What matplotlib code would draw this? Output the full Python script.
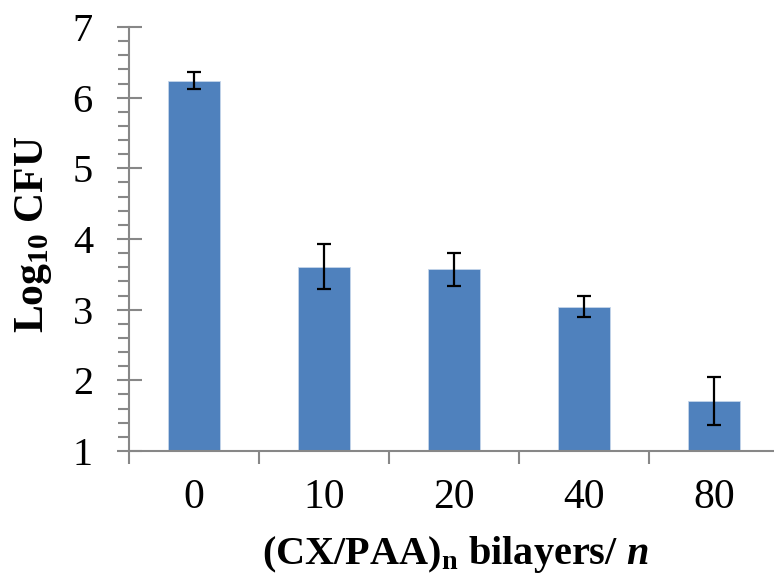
import numpy as np
import matplotlib
matplotlib.use("Agg")
import matplotlib.pyplot as plt
from matplotlib.ticker import MultipleLocator, FixedLocator

plt.rcParams['font.family'] = ['Liberation Serif', 'DejaVu Serif']
plt.rcParams['mathtext.fontset'] = 'custom'
plt.rcParams['mathtext.rm'] = 'Liberation Serif'
plt.rcParams['mathtext.bf'] = 'Liberation Serif:bold'
plt.rcParams['mathtext.it'] = 'Liberation Serif:italic:bold'

# data
bilayers = ['0', '10', '20', '40', '80']
log_cfu = [6.24, 3.61, 3.57, 3.04, 1.71]
err = [0.12, 0.32, 0.23, 0.15, 0.34]
base = 1

W, H = 774, 578
fig = plt.figure(figsize=(W / 100, H / 100), dpi=100)
ax = fig.add_axes([129 / W, 1 - 451 / H, 650 / W, 424 / H])

x = np.arange(len(bilayers))
heights = [v - base for v in log_cfu]
ax.bar(x, heights, bottom=base, width=0.4, color='#4F81BD', edgecolor='#C5D5EA', linewidth=0.6, zorder=2)
ax.errorbar(x, log_cfu, yerr=err, fmt='none', ecolor='black', elinewidth=1.6,
            capsize=4.7, capthick=1.6, zorder=3)

ax.set_xlim(-0.5, len(bilayers) - 0.5)
ax.set_ylim(1, 7)

gray = '#878787'
for s in ['top', 'right']:
    ax.spines[s].set_visible(False)
for s in ['left', 'bottom']:
    ax.spines[s].set_color(gray)
    ax.spines[s].set_linewidth(1.5)

ax.yaxis.set_major_locator(MultipleLocator(1))
ax.yaxis.set_minor_locator(MultipleLocator(0.2))
ax.tick_params(axis='y', which='major', direction='inout', length=18, width=1.5, color=gray,
               labelsize=29, pad=17)
ax.tick_params(axis='y', which='minor', direction='out', length=8, width=1.5, color=gray)

ax.set_xticks(x)
ax.set_xticklabels(bilayers)
ax.xaxis.set_minor_locator(FixedLocator(np.arange(-0.5, len(bilayers), 1.0)))
ax.tick_params(axis='x', which='major', length=0, labelsize=30, pad=20)
ax.tick_params(axis='x', which='minor', direction='out', length=9, width=1.5, color=gray)

fig.text(13 / W, 1 - 234 / H, r'$\mathbf{Log_{10}\ CFU}$', fontsize=30, rotation=90,
         ha='left', va='center')
fig.text(455 / W, 1 - 564 / H, r'$\mathbf{(CX/PAA)_n\ bilayers/\ }\mathit{n}$', fontsize=29,
         ha='center', va='baseline')

fig.savefig('out.png', dpi=100)
